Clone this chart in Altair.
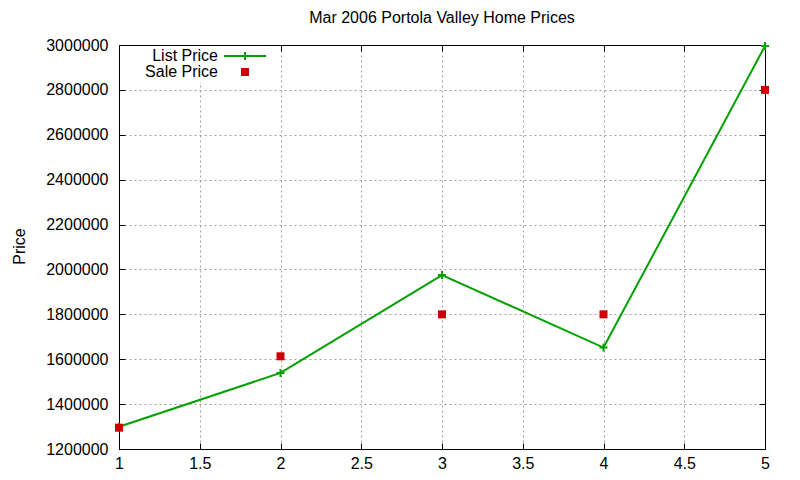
import altair as alt
import pandas as pd

# ---- data ----
lots = [1, 2, 3, 4, 5]
list_price = [1299000, 1539000, 1975000, 1652000, 2995000]
sale_price = [1295000, 1613000, 1800000, 1800000, 2800000]
series_names = ["List Price", "Sale Price"]
x_ticks = [1, 1.5, 2, 2.5, 3, 3.5, 4, 4.5, 5]
y_ticks = [1200000, 1400000, 1600000, 1800000, 2000000, 2200000,
           2400000, 2600000, 2800000, 3000000]

GREEN = "#00a000"
RED = "#cc0000"
FONT = "Liberation Sans"

list_df = pd.DataFrame({"x": lots, "price": list_price, "series": "List Price"})
sale_df = pd.DataFrame({"x": lots, "price": sale_price, "series": "Sale Price"})
all_df = pd.concat([list_df, sale_df], ignore_index=True)

# legend symbol paths (unit = sqrt(size)/2 = 5px), drawn to the right of the labels
LIST_SYM = "M14.8,0H23.2M19,-0.8V0.8"
SALE_SYM = "M18.2,-0.6H19.8M18.2,-0.2H19.8M18.2,0.2H19.8M18.2,0.6H19.8"
PLUS = "M-1,0H1M0,-1V1"

XS = alt.Scale(domain=[1, 5], nice=False, zero=False)
YS = alt.Scale(domain=[1200000, 3000000], nice=False, zero=False)

BASE = dict(labelFont=FONT, labelColor="black", labelFlush=False, labelFontSize=16,
            domainColor="black", domainWidth=1, tickColor="black", tickWidth=1)

# main axes: labels + dashed grid + black domain
ax_bottom = alt.Axis(orient="bottom", values=x_ticks, format="~g", title=None,
                     labelPadding=6, grid=True, gridColor="#a0a0a0", gridDash=[2, 3],
                     gridWidth=1, ticks=False, tickSize=0, domain=True, **BASE)
ax_left = alt.Axis(orient="left", values=y_ticks, format="d", title="Price",
                   labelPadding=11, grid=True, gridColor="#a0a0a0", gridDash=[2, 3],
                   gridWidth=1, ticks=False, tickSize=0, domain=True,
                   titleFont=FONT, titleColor="black", titleFontSize=16,
                   titleFontWeight="normal", titleAngle=270, titleAlign="center",
                   titleBaseline="middle", titleX=-100, titleY=201, **BASE)
# frame on top / right
ax_top_frame = alt.Axis(orient="top", values=x_ticks, title=None, labels=False,
                        grid=False, ticks=False, domain=True, **BASE)
ax_right_frame = alt.Axis(orient="right", values=y_ticks, title=None, labels=False,
                          grid=False, ticks=False, domain=True, **BASE)
# inward tick marks on all four sides
TICKS = dict(title=None, labels=False, grid=False, ticks=True, tickSize=6,
             domain=False, offset=-6, **BASE)
ax_bottom_ticks = alt.Axis(orient="bottom", values=x_ticks, **TICKS)
ax_left_ticks = alt.Axis(orient="left", values=y_ticks, **TICKS)
ax_top_ticks = alt.Axis(orient="top", values=x_ticks, **TICKS)
ax_right_ticks = alt.Axis(orient="right", values=y_ticks, **TICKS)

line = alt.Chart(list_df).mark_line(color=GREEN, strokeWidth=2).encode(
    x=alt.X("x:Q", scale=XS, axis=ax_bottom),
    y=alt.Y("price:Q", scale=YS, axis=ax_left))
plus = alt.Chart(list_df).mark_point(shape=PLUS, size=64, filled=False,
                                     color=GREEN, strokeWidth=2, opacity=1).encode(
    x=alt.X("x:Q", scale=XS, axis=ax_top_frame),
    y=alt.Y("price:Q", scale=YS, axis=ax_right_frame))
squares = alt.Chart(sale_df).mark_square(size=64, color=RED, opacity=1).encode(
    x=alt.X("x:Q", scale=XS, axis=ax_bottom_ticks),
    y=alt.Y("price:Q", scale=YS, axis=ax_left_ticks))

leg = alt.Legend(title=None, orient="none", legendX=21, legendY=1,
                 labelAlign="right", labelOffset=60,
                 labelFontSize=16, labelFont=FONT,
                 labelColor="black", symbolSize=100,
                 symbolStrokeWidth=2, symbolOpacity=1,
                 rowPadding=0, padding=2, fillColor="white",
                 labelBaseline="middle")

legend_layer = alt.Chart(all_df).transform_filter("false").mark_point(
    filled=False, strokeWidth=2, opacity=1).encode(
    x=alt.X("x:Q", scale=XS, axis=ax_top_ticks),
    y=alt.Y("price:Q", scale=YS, axis=ax_right_ticks),
    color=alt.Color("series:N",
                    scale=alt.Scale(domain=series_names, range=[GREEN, RED]),
                    legend=leg),
    shape=alt.Shape("series:N",
                    scale=alt.Scale(domain=series_names, range=[LIST_SYM, SALE_SYM]),
                    legend=leg),
)

chart = alt.layer(line, plus, squares, legend_layer).resolve_axis(
    x="independent", y="independent"
).properties(
    width=646, height=404,
    background="white",
    title=alt.TitleParams("Mar 2006 Portola Valley Home Prices", fontSize=16,
                          font=FONT, fontWeight="normal", color="black",
                          anchor="middle", offset=11),
    autosize=alt.AutoSizeParams(type="none"),
    padding={"left": 111, "top": 37, "right": 27, "bottom": 23},
).configure_view(
    stroke="black", strokeWidth=1
)

chart.save("out.html", embed_options={"renderer": "svg", "actions": False})
